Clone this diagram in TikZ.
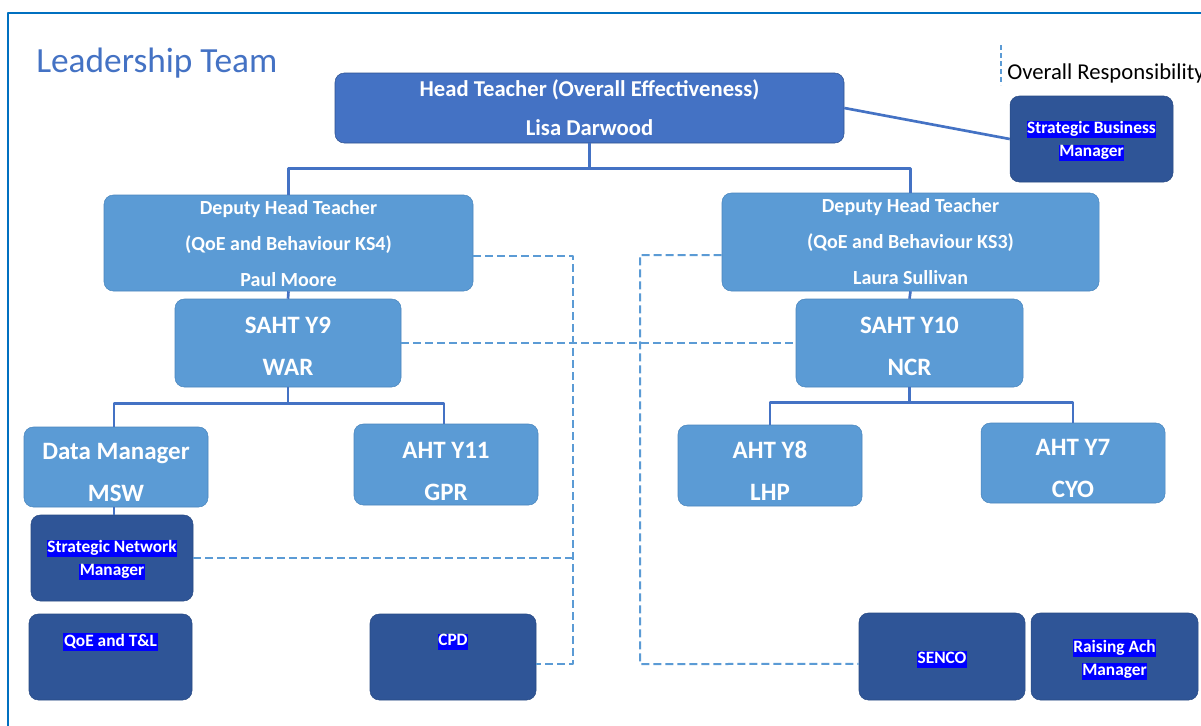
\documentclass[tikz,border=0pt]{standalone}
\usepackage{fontspec}
\setmainfont{Carlito}
\usetikzlibrary{positioning}

\definecolor{headblue}{HTML}{4472C4}
\definecolor{headedge}{HTML}{2F528F}
\definecolor{midblue}{HTML}{5B9BD5}
\definecolor{midedge}{HTML}{4A86BE}
\definecolor{darkblue}{HTML}{2F5597}
\definecolor{darkedge}{HTML}{294B85}
\definecolor{hlblue}{HTML}{0000FF}
\definecolor{framecol}{HTML}{0070C0}

\newcommand{\hlt}[1]{{\setlength{\fboxsep}{0.5pt}\colorbox{hlblue}{\rule[-3pt]{0pt}{11.5pt}#1}}}

\begin{document}
\begin{tikzpicture}[x=0.75pt,y=-0.75pt,line join=round]

            \tikzstyle{every node}=[align=center,text=white,inner sep=0pt]
            \tikzstyle{head}=[rectangle,rounded corners=7pt,fill=headblue,draw=headedge,thin,font=\bfseries\fontsize{17}{29}\selectfont]
            \tikzstyle{deputy}=[rectangle,rounded corners=7pt,fill=midblue,draw=midedge,thin,text depth=0pt,font=\bfseries\fontsize{15}{27}\selectfont]
            \tikzstyle{senior}=[rectangle,rounded corners=7pt,fill=midblue,draw=midedge,thin,text depth=0pt,font=\bfseries\fontsize{18.75}{31.5}\selectfont]
            \tikzstyle{lead}=[rectangle,rounded corners=7pt,fill=darkblue,draw=darkedge,thin,font=\bfseries\fontsize{13}{17.25}\selectfont]
            \tikzstyle{solidln}=[draw=headblue,line width=2pt]
            \tikzstyle{dashln}=[draw=midblue,line width=1.5pt,dash pattern=on 6pt off 3pt]

            % page and frame
            \useasboundingbox[fill=white] (0,0) rectangle (1201,725);
            \draw[framecol,line width=2.2pt] (8,730) -- (8,13) -- (1210,13);

            \node[anchor=west,text=headblue,font=\fontsize{26.5}{30}\selectfont] (title) at (36,63) {Leadership Team};
            \draw[dashln,dash pattern=on 4pt off 2pt,line width=1.2pt] (1001,45) -- (1001,85);
            \node[anchor=west,text=black,font=\fontsize{17}{20}\selectfont] (key) at (1007,73) {Overall Responsibility};

            \node[head,minimum width=381.75pt,minimum height=52.5pt] (ht) at (589.5,108) {Head Teacher (Overall Effectiveness)\\Lisa Darwood};
            \node[lead,minimum width=122.25pt,minimum height=64.5pt,text height=30pt] (sbm) at (1091.5,139) {\hlt{Strategic Business}\\\hlt{Manager}};

            \node[deputy,minimum width=276.75pt,minimum height=72pt,text height=65pt] (dl) at (288.5,243) {Deputy Head Teacher\\(QoE and Behaviour KS4)\\Paul Moore};
            \node[deputy,minimum width=282.75pt,minimum height=73.5pt,text height=63.6pt] (dr) at (910.5,242) {Deputy Head Teacher\\(QoE and Behaviour KS3)\\Laura Sullivan};

            \node[senior,minimum width=169.5pt,minimum height=66pt,text height=48pt] (s9) at (288,343) {SAHT Y9\\WAR};
            \node[senior,minimum width=170.25pt,minimum height=66pt,text height=48pt] (s10) at (909.5,343) {SAHT Y10\\NCR};

            \node[senior,minimum width=138pt,minimum height=60pt,text height=51pt] (dm) at (116,467) {Data Manager\\MSW};
            \node[senior,minimum width=138pt,minimum height=60.75pt,text height=53.25pt] (a11) at (446,464.5) {AHT Y11\\GPR};
            \node[senior,minimum width=138pt,minimum height=60.75pt,text height=51.75pt] (a8) at (770,465.5) {AHT Y8\\LHP};
            \node[senior,minimum width=138pt,minimum height=60pt,text height=51pt] (a7) at (1073,463) {AHT Y7\\CYO};

            \node[lead,minimum width=121.5pt,minimum height=64.5pt,text height=29.75pt] (snm) at (112,558) {\hlt{Strategic Network}\\\hlt{Manager}};
            \node[lead,minimum width=122.25pt,minimum height=64.5pt,text depth=26pt] (qoe) at (110.5,657) {\hlt{QoE and T\&L}};
            \node[lead,minimum width=124.5pt,minimum height=64.5pt,text depth=26pt] (cpd) at (453,657) {\hlt{CPD}};
            \node[lead,minimum width=124.5pt,minimum height=65.25pt,text height=13.5pt] (sen) at (942,656.5) {\hlt{SENCO}};
            \node[lead,minimum width=125.25pt,minimum height=65.25pt,text height=31.3pt] (rai) at (1114.5,656.5) {\hlt{Raising Ach}\\\hlt{Manager}};

            \coordinate (kl) at (573,664);
            \coordinate (kr) at (640,664);

            % line management
            \draw[solidln] (ht.south) -- ++(0,25) -| (dl.north);
            \draw[solidln] (ht.south) -- ++(0,25) -| (dr.north);
            \draw[solidln] (ht.east) -- (sbm.west);
            \draw[solidln] (dl.south) -- (s9.north);
            \draw[solidln] (dr.south) -- (s10.north);
            \draw[solidln] (s9.south) -- ++(0,16) -| ([xshift=-1.5pt]dm.north);
            \draw[solidln] (s9.south) -- ++(0,16) -| ([xshift=-1.5pt]a11.north);
            \draw[solidln] (s10.south) -- ++(0,15) -| (a8.north);
            \draw[solidln] (s10.south) -- ++(0,15) -| (a7.north);
            \draw[solidln] ([xshift=-1.5pt]dm.south) -- ([xshift=-1.5pt]dm.south |- snm.north);

            % overall responsibility
            \draw[dashln] ([yshift=-9.75pt]dl.east) -| (kl) -- ([yshift=-5.25pt]cpd.east);
            \draw[dashln] (snm.east) -- (snm.east -| kl);
            \draw[dashln] ([yshift=-9.75pt]dr.west) -| (kr) -- ([yshift=-5.6pt]sen.west);
            \draw[dashln] (s9.east) -- (s10.west);
        \end{tikzpicture}
\end{document}
